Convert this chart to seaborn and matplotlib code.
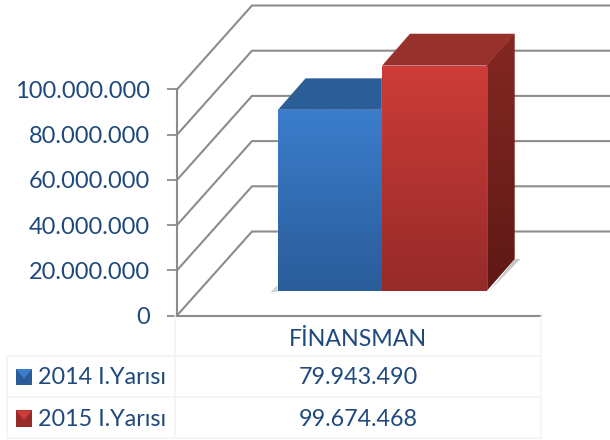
import matplotlib
matplotlib.use("Agg")
import matplotlib.pyplot as plt
from matplotlib.colors import LinearSegmentedColormap
from matplotlib.patches import Polygon
import seaborn as sns
import numpy as np
import pandas as pd

category = "FİNANSMAN"
series_names = ["2014 I.Yarısı", "2015 I.Yarısı"]
series_values = [79943490, 99674468]
y_ticks = [0, 20000000, 40000000, 60000000, 80000000, 100000000]

W, H = 610, 440
TEXT = "#1f497d"
GRID = "#8c8c8c"
TABLE = "#f4f4f4"
front_cols = [("#3b7dcb", "#2a5c9a"), ("#cd3c39", "#962b29")]
top_cols = ["#2b5d97", "#98302c"]
side_cols = [("#234d80", "#1c3f69"), ("#842822", "#5e1916")]
WALL_DX, WALL_DY = 75, 84
BAR_DX, BAR_DY = 28, 32


def dots(v):
    return f"{v:,}".replace(",", ".")


def box(left, top, right, bottom):
    return [left / W, 1 - bottom / H, (right - left) / W, (bottom - top) / H]


def gradient(ax, c1, c2, extent, clip):
    cmap = LinearSegmentedColormap.from_list("g", [c1, c2])
    im = ax.imshow(np.linspace(0, 1, 64).reshape(-1, 1), cmap=cmap, aspect="auto",
                   extent=extent, zorder=clip.get_zorder() + 0.1)
    im.set_clip_path(clip)


sns.set_style("white")
plt.rcParams["font.family"] = ["Lato", "DejaVu Sans"]
fig = plt.figure(figsize=(W / 100, H / 100), dpi=100)

# front plane of the box, carries the value axis
ax = fig.add_axes(box(177, 89.5, 541, 315.5), zorder=1)
ax.patch.set_alpha(0)
ax.set_xlim(0, 1)
ax.set_ylim(0, 100000000)
ax.set_xticks([])
ax.set_yticks(y_ticks)
ax.set_yticklabels([dots(t) for t in y_ticks], fontsize=17, color=TEXT)
ax.tick_params(axis="y", left=True, length=7, width=1.3, color=GRID, pad=12.5)
sns.despine(ax=ax, top=True, right=True)
for s in ["left", "bottom"]:
    ax.spines[s].set_color(GRID)
    ax.spines[s].set_linewidth(1.5)

# pixel overlay for the faces a 2d axes can't do
px = fig.add_axes([0, 0, 1, 1], zorder=2)
px.patch.set_alpha(0)
px.set_axis_off()
px.set_xlim(0, W)
px.set_ylim(H, 0)
px.set_autoscale_on(False)

for t in y_ticks:
    y = H - ax.transData.transform((0, t))[1]
    px.plot([177, 177 + WALL_DX, W], [y, y - WALL_DY, y - WALL_DY], color=GRID, lw=1.5, zorder=1)

# bars, sitting partway into the depth
bar_ax = fig.add_axes(box(200, 65, 564, 291), zorder=3)
bar_ax.patch.set_alpha(0)
df = pd.DataFrame({"cat": [category] * 2, "serie": series_names, "val": series_values})
sns.barplot(data=df, x="cat", y="val", hue="serie", palette=[c[0] for c in front_cols],
            width=0.574, gap=0, legend=False, ax=bar_ax, saturation=1)
bar_ax.set_ylim(0, 100000000)
bar_ax.set_xlim(-0.5, 0.5)
bar_ax.set_axis_off()
fig.canvas.draw()

for i, p in enumerate(bar_ax.patches[:2]):
    x0, y0 = p.get_x(), p.get_y()
    x1, y1 = x0 + p.get_width(), y0 + p.get_height()
    gradient(bar_ax, front_cols[i][0], front_cols[i][1], (x0, x1, y0, y1), p)
    lx, by = bar_ax.transData.transform((x0, y0))
    rx, ty = bar_ax.transData.transform((x1, y1))
    by, ty = H - by, H - ty
    # ground shadow
    px.add_patch(Polygon([(rx + 3, by), (rx + BAR_DX + 6, by - BAR_DY), (rx + BAR_DX, by - BAR_DY)],
                         color="#b0b0b0", alpha=0.7, lw=0, zorder=2))
    if i == 0:
        px.add_patch(Polygon([(lx - 7, by + 1), (lx, by - 6), (lx, by + 1)],
                             color="#c8c8c8", alpha=0.8, lw=0, zorder=2))
    px.add_patch(Polygon([(lx, ty), (lx + BAR_DX, ty - BAR_DY), (rx + BAR_DX, ty - BAR_DY), (rx, ty)],
                         color=top_cols[i], lw=0, zorder=3))
    side = Polygon([(rx, ty), (rx + BAR_DX, ty - BAR_DY), (rx + BAR_DX, by - BAR_DY), (rx, by)],
                   color=side_cols[i][0], lw=0, zorder=3)
    px.add_patch(side)
    gradient(px, side_cols[i][0], side_cols[i][1], (rx, rx + BAR_DX, by, ty - BAR_DY), side)
px.set_xlim(0, W)
px.set_ylim(H, 0)

# data table under the chart
tab = fig.add_axes([0, 0, 1, 1], zorder=4)
tab.patch.set_alpha(0)
tab.set_axis_off()
tab.set_xlim(0, W)
tab.set_ylim(H, 0)
tab.set_autoscale_on(False)
tab.plot([175, 175], [316, 438], color=TABLE, lw=1.2)
tab.plot([541, 541], [316, 438], color=TABLE, lw=1.2)
tab.plot([7, 7], [356, 438], color=TABLE, lw=1.2)
for y in [356, 397, 438]:
    tab.plot([7, 541], [y, y], color=TABLE, lw=1.2)
tab.text(358, 340, category, ha="center", va="center", fontsize=16.7, color=TEXT)

for i, (name, val) in enumerate(zip(series_names, series_values)):
    yc = 377.5 + i * 41.5
    tab.text(38, yc, name, ha="left", va="center", fontsize=16.8, color=TEXT)
    tab.text(358, yc, dots(val), ha="center", va="center", fontsize=16.8, color=TEXT)
    key = Polygon([(16, yc - 8.5), (32, yc - 8.5), (32, yc + 8), (16, yc + 8)], color=front_cols[i][1], lw=0)
    tab.add_patch(key)
    tab.add_patch(Polygon([(16, yc - 8.5), (32, yc - 8.5), (24, yc + 1)], color=front_cols[i][0], lw=0))

fig.savefig("out.png", dpi=100)
